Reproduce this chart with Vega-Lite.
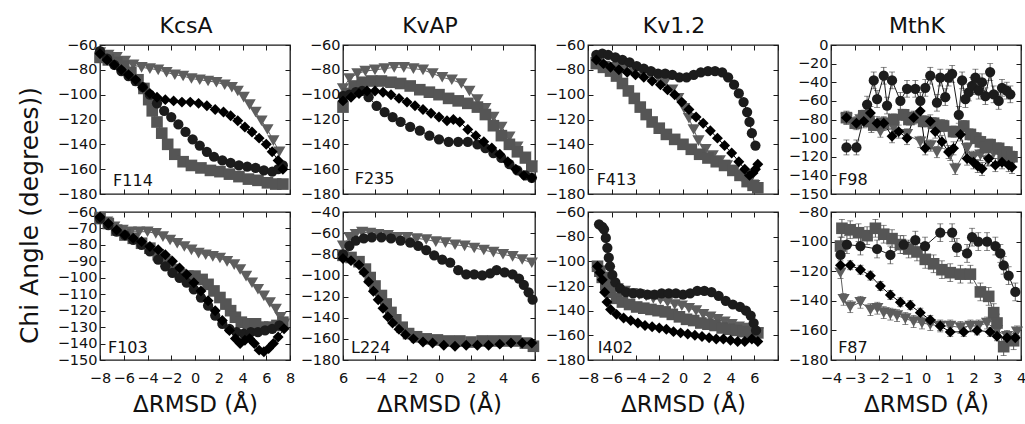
{"$schema":"https://vega.github.io/schema/vega-lite/v6.json",
"padding":{"left":16,"top":14,"right":0,"bottom":0},
"config":{"font":"DejaVu Sans","view":{"stroke":"#1a1a1a","strokeWidth":1.3},
"axis":{"domain":false,"grid":false,"tickSize":-5,"tickColor":"#1a1a1a","tickWidth":1,"labelFontSize":14.5,"labelColor":"#111111","labelPadding":8,"labelFlush":false,"labelOverlap":false,"titleFontSize":23,"titleFontWeight":"normal","titleColor":"#111111"},
"title":{"fontSize":22,"fontWeight":"normal","color":"#111111","offset":-1,"baseline":"alphabetic","frame":"group","anchor":"middle","dx":-9},
"text":{"fontSize":16,"color":"#111111"}},
"datasets":{"d":[
{"p":"A1","s":"t","x":-8,"y":-66},{"p":"A1","s":"t","x":-7.3,"y":-68},{"p":"A1","s":"t","x":-6.6,"y":-70},{"p":"A1","s":"t","x":-5.9,"y":-73},{"p":"A1","s":"t","x":-5.2,"y":-76},{"p":"A1","s":"t","x":-4.5,"y":-78},{"p":"A1","s":"t","x":-3.8,"y":-79},{"p":"A1","s":"t","x":-3.1,"y":-80},{"p":"A1","s":"t","x":-2.4,"y":-82},{"p":"A1","s":"t","x":-1.7,"y":-84},{"p":"A1","s":"t","x":-1,"y":-85},{"p":"A1","s":"t","x":-0.3,"y":-87},{"p":"A1","s":"t","x":0.4,"y":-88},{"p":"A1","s":"t","x":1.1,"y":-89},{"p":"A1","s":"t","x":1.8,"y":-90},{"p":"A1","s":"t","x":2.5,"y":-92},{"p":"A1","s":"t","x":3.1,"y":-94},{"p":"A1","s":"t","x":3.6,"y":-97},{"p":"A1","s":"t","x":4.1,"y":-102},{"p":"A1","s":"t","x":4.6,"y":-108},{"p":"A1","s":"t","x":5.1,"y":-114},{"p":"A1","s":"t","x":5.6,"y":-121},{"p":"A1","s":"t","x":6.1,"y":-128},{"p":"A1","s":"t","x":6.6,"y":-137},{"p":"A1","s":"t","x":7.1,"y":-146},
{"p":"A1","s":"s","x":-8,"y":-70},{"p":"A1","s":"s","x":-7.3,"y":-72},{"p":"A1","s":"s","x":-6.6,"y":-74},{"p":"A1","s":"s","x":-6,"y":-77},{"p":"A1","s":"s","x":-5.4,"y":-82},{"p":"A1","s":"s","x":-4.8,"y":-88},{"p":"A1","s":"s","x":-4.3,"y":-95},{"p":"A1","s":"s","x":-3.9,"y":-104},{"p":"A1","s":"s","x":-3.6,"y":-113},{"p":"A1","s":"s","x":-3.2,"y":-122},{"p":"A1","s":"s","x":-2.8,"y":-131},{"p":"A1","s":"s","x":-2.3,"y":-140},{"p":"A1","s":"s","x":-1.7,"y":-148},{"p":"A1","s":"s","x":-1,"y":-154},{"p":"A1","s":"s","x":-0.3,"y":-157},{"p":"A1","s":"s","x":0.5,"y":-159},{"p":"A1","s":"s","x":1.3,"y":-161},{"p":"A1","s":"s","x":2.1,"y":-162},{"p":"A1","s":"s","x":2.9,"y":-164},{"p":"A1","s":"s","x":3.7,"y":-166},{"p":"A1","s":"s","x":4.5,"y":-168},{"p":"A1","s":"s","x":5.3,"y":-169},{"p":"A1","s":"s","x":6.1,"y":-171},{"p":"A1","s":"s","x":6.8,"y":-172},{"p":"A1","s":"s","x":7.4,"y":-172},
{"p":"A1","s":"c","x":-8,"y":-65},{"p":"A1","s":"c","x":-7.4,"y":-71},{"p":"A1","s":"c","x":-6.8,"y":-76},{"p":"A1","s":"c","x":-6.2,"y":-81},{"p":"A1","s":"c","x":-5.6,"y":-85},{"p":"A1","s":"c","x":-5,"y":-89},{"p":"A1","s":"c","x":-4.4,"y":-94},{"p":"A1","s":"c","x":-3.8,"y":-100},{"p":"A1","s":"c","x":-3.2,"y":-107},{"p":"A1","s":"c","x":-2.6,"y":-113},{"p":"A1","s":"c","x":-2,"y":-118},{"p":"A1","s":"c","x":-1.4,"y":-124},{"p":"A1","s":"c","x":-0.8,"y":-130},{"p":"A1","s":"c","x":-0.2,"y":-136},{"p":"A1","s":"c","x":0.4,"y":-141},{"p":"A1","s":"c","x":1,"y":-146},{"p":"A1","s":"c","x":1.6,"y":-150},{"p":"A1","s":"c","x":2.3,"y":-153},{"p":"A1","s":"c","x":3,"y":-155},{"p":"A1","s":"c","x":3.7,"y":-157},{"p":"A1","s":"c","x":4.4,"y":-158},{"p":"A1","s":"c","x":5.1,"y":-159},{"p":"A1","s":"c","x":5.8,"y":-161},{"p":"A1","s":"c","x":6.5,"y":-162},{"p":"A1","s":"c","x":7,"y":-160},{"p":"A1","s":"c","x":7.4,"y":-157},
{"p":"A1","s":"d","x":-8,"y":-67},{"p":"A1","s":"d","x":-7.4,"y":-72},{"p":"A1","s":"d","x":-6.8,"y":-76},{"p":"A1","s":"d","x":-6.2,"y":-80},{"p":"A1","s":"d","x":-5.6,"y":-84},{"p":"A1","s":"d","x":-5,"y":-88},{"p":"A1","s":"d","x":-4.4,"y":-94},{"p":"A1","s":"d","x":-3.8,"y":-99},{"p":"A1","s":"d","x":-3.2,"y":-102},{"p":"A1","s":"d","x":-2.5,"y":-104},{"p":"A1","s":"d","x":-1.8,"y":-105},{"p":"A1","s":"d","x":-1.1,"y":-106},{"p":"A1","s":"d","x":-0.4,"y":-106},{"p":"A1","s":"d","x":0.3,"y":-107},{"p":"A1","s":"d","x":1,"y":-109},{"p":"A1","s":"d","x":1.7,"y":-112},{"p":"A1","s":"d","x":2.4,"y":-114},{"p":"A1","s":"d","x":3,"y":-117},{"p":"A1","s":"d","x":3.6,"y":-121},{"p":"A1","s":"d","x":4.2,"y":-126},{"p":"A1","s":"d","x":4.8,"y":-130},{"p":"A1","s":"d","x":5.4,"y":-135},{"p":"A1","s":"d","x":6,"y":-140},{"p":"A1","s":"d","x":6.5,"y":-146},{"p":"A1","s":"d","x":7,"y":-153},{"p":"A1","s":"d","x":7.4,"y":-160},
{"p":"A2","s":"t","x":-6,"y":-95},{"p":"A2","s":"t","x":-5.6,"y":-87},{"p":"A2","s":"t","x":-5.1,"y":-83},{"p":"A2","s":"t","x":-4.6,"y":-81},{"p":"A2","s":"t","x":-4,"y":-80},{"p":"A2","s":"t","x":-3.4,"y":-79},{"p":"A2","s":"t","x":-2.8,"y":-78},{"p":"A2","s":"t","x":-2.2,"y":-78},{"p":"A2","s":"t","x":-1.6,"y":-79},{"p":"A2","s":"t","x":-1,"y":-80},{"p":"A2","s":"t","x":-0.4,"y":-83},{"p":"A2","s":"t","x":0.2,"y":-86},{"p":"A2","s":"t","x":0.8,"y":-88},{"p":"A2","s":"t","x":1.4,"y":-91},{"p":"A2","s":"t","x":1.9,"y":-97},{"p":"A2","s":"t","x":2.4,"y":-104},{"p":"A2","s":"t","x":2.9,"y":-111},{"p":"A2","s":"t","x":3.4,"y":-118},{"p":"A2","s":"t","x":3.9,"y":-126},{"p":"A2","s":"t","x":4.4,"y":-134},{"p":"A2","s":"t","x":4.9,"y":-142},{"p":"A2","s":"t","x":5.4,"y":-150},{"p":"A2","s":"t","x":5.8,"y":-157},
{"p":"A2","s":"s","x":-6,"y":-110},{"p":"A2","s":"s","x":-5.7,"y":-99},{"p":"A2","s":"s","x":-5.3,"y":-93},{"p":"A2","s":"s","x":-4.8,"y":-90},{"p":"A2","s":"s","x":-4.2,"y":-89},{"p":"A2","s":"s","x":-3.6,"y":-89},{"p":"A2","s":"s","x":-3,"y":-90},{"p":"A2","s":"s","x":-2.4,"y":-91},{"p":"A2","s":"s","x":-1.8,"y":-93},{"p":"A2","s":"s","x":-1.2,"y":-96},{"p":"A2","s":"s","x":-0.6,"y":-98},{"p":"A2","s":"s","x":0,"y":-100},{"p":"A2","s":"s","x":0.6,"y":-103},{"p":"A2","s":"s","x":1.2,"y":-105},{"p":"A2","s":"s","x":1.8,"y":-107},{"p":"A2","s":"s","x":2.4,"y":-110},{"p":"A2","s":"s","x":2.9,"y":-116},{"p":"A2","s":"s","x":3.4,"y":-125},{"p":"A2","s":"s","x":3.9,"y":-133},{"p":"A2","s":"s","x":4.4,"y":-140},{"p":"A2","s":"s","x":4.9,"y":-146},{"p":"A2","s":"s","x":5.4,"y":-151},{"p":"A2","s":"s","x":5.8,"y":-158},
{"p":"A2","s":"c","x":-6,"y":-101},{"p":"A2","s":"c","x":-5.6,"y":-100},{"p":"A2","s":"c","x":-5.2,"y":-98},{"p":"A2","s":"c","x":-4.8,"y":-97},{"p":"A2","s":"c","x":-4.4,"y":-102},{"p":"A2","s":"c","x":-3.9,"y":-109},{"p":"A2","s":"c","x":-3.4,"y":-114},{"p":"A2","s":"c","x":-2.9,"y":-118},{"p":"A2","s":"c","x":-2.4,"y":-122},{"p":"A2","s":"c","x":-1.8,"y":-126},{"p":"A2","s":"c","x":-1.2,"y":-129},{"p":"A2","s":"c","x":-0.6,"y":-133},{"p":"A2","s":"c","x":0,"y":-136},{"p":"A2","s":"c","x":0.6,"y":-138},{"p":"A2","s":"c","x":1.2,"y":-138},{"p":"A2","s":"c","x":1.8,"y":-138},{"p":"A2","s":"c","x":2.4,"y":-140},{"p":"A2","s":"c","x":2.9,"y":-143},{"p":"A2","s":"c","x":3.4,"y":-147},{"p":"A2","s":"c","x":3.9,"y":-151},{"p":"A2","s":"c","x":4.4,"y":-156},{"p":"A2","s":"c","x":4.9,"y":-161},{"p":"A2","s":"c","x":5.4,"y":-165},{"p":"A2","s":"c","x":5.8,"y":-167},
{"p":"A2","s":"d","x":-6,"y":-105},{"p":"A2","s":"d","x":-5.5,"y":-102},{"p":"A2","s":"d","x":-5,"y":-99},{"p":"A2","s":"d","x":-4.5,"y":-97},{"p":"A2","s":"d","x":-4,"y":-97},{"p":"A2","s":"d","x":-3.5,"y":-98},{"p":"A2","s":"d","x":-3,"y":-100},{"p":"A2","s":"d","x":-2.5,"y":-103},{"p":"A2","s":"d","x":-2,"y":-106},{"p":"A2","s":"d","x":-1.5,"y":-109},{"p":"A2","s":"d","x":-1,"y":-112},{"p":"A2","s":"d","x":-0.5,"y":-115},{"p":"A2","s":"d","x":0,"y":-118},{"p":"A2","s":"d","x":0.5,"y":-121},{"p":"A2","s":"d","x":0.9,"y":-120},{"p":"A2","s":"d","x":1.3,"y":-122},{"p":"A2","s":"d","x":1.8,"y":-128},{"p":"A2","s":"d","x":2.3,"y":-133},{"p":"A2","s":"d","x":2.8,"y":-138},{"p":"A2","s":"d","x":3.3,"y":-143},{"p":"A2","s":"d","x":3.8,"y":-148},{"p":"A2","s":"d","x":4.3,"y":-154},{"p":"A2","s":"d","x":4.8,"y":-160},{"p":"A2","s":"d","x":5.3,"y":-165},{"p":"A2","s":"d","x":5.8,"y":-167},
{"p":"A3","s":"t","x":-7.3,"y":-74},{"p":"A3","s":"t","x":-6.6,"y":-77},{"p":"A3","s":"t","x":-5.8,"y":-78},{"p":"A3","s":"t","x":-5,"y":-79},{"p":"A3","s":"t","x":-4.2,"y":-80},{"p":"A3","s":"t","x":-3.5,"y":-81},{"p":"A3","s":"t","x":-2.8,"y":-83},{"p":"A3","s":"t","x":-2.1,"y":-86},{"p":"A3","s":"t","x":-1.5,"y":-90},{"p":"A3","s":"t","x":-0.9,"y":-96},{"p":"A3","s":"t","x":-0.4,"y":-103},{"p":"A3","s":"t","x":0.1,"y":-111},{"p":"A3","s":"t","x":0.5,"y":-119},{"p":"A3","s":"t","x":0.9,"y":-128},{"p":"A3","s":"t","x":1.3,"y":-137},{"p":"A3","s":"t","x":1.9,"y":-144},{"p":"A3","s":"t","x":2.5,"y":-149},{"p":"A3","s":"t","x":3.1,"y":-153},{"p":"A3","s":"t","x":3.7,"y":-157},{"p":"A3","s":"t","x":4.3,"y":-161},{"p":"A3","s":"t","x":4.9,"y":-166},{"p":"A3","s":"t","x":5.5,"y":-171},{"p":"A3","s":"t","x":6,"y":-173},
{"p":"A3","s":"s","x":-7.3,"y":-75},{"p":"A3","s":"s","x":-6.7,"y":-78},{"p":"A3","s":"s","x":-6.1,"y":-81},{"p":"A3","s":"s","x":-5.6,"y":-85},{"p":"A3","s":"s","x":-5.1,"y":-91},{"p":"A3","s":"s","x":-4.6,"y":-97},{"p":"A3","s":"s","x":-4.1,"y":-103},{"p":"A3","s":"s","x":-3.6,"y":-110},{"p":"A3","s":"s","x":-3.1,"y":-116},{"p":"A3","s":"s","x":-2.6,"y":-122},{"p":"A3","s":"s","x":-2,"y":-127},{"p":"A3","s":"s","x":-1.4,"y":-132},{"p":"A3","s":"s","x":-0.7,"y":-136},{"p":"A3","s":"s","x":0,"y":-140},{"p":"A3","s":"s","x":0.7,"y":-144},{"p":"A3","s":"s","x":1.4,"y":-148},{"p":"A3","s":"s","x":2.1,"y":-151},{"p":"A3","s":"s","x":2.8,"y":-154},{"p":"A3","s":"s","x":3.5,"y":-157},{"p":"A3","s":"s","x":4.2,"y":-161},{"p":"A3","s":"s","x":4.8,"y":-165},{"p":"A3","s":"s","x":5.4,"y":-170},{"p":"A3","s":"s","x":5.9,"y":-173},{"p":"A3","s":"s","x":6.3,"y":-175},
{"p":"A3","s":"c","x":-7.3,"y":-68},{"p":"A3","s":"c","x":-6.8,"y":-67},{"p":"A3","s":"c","x":-6.3,"y":-68},{"p":"A3","s":"c","x":-5.7,"y":-70},{"p":"A3","s":"c","x":-5.1,"y":-72},{"p":"A3","s":"c","x":-4.5,"y":-74},{"p":"A3","s":"c","x":-3.9,"y":-77},{"p":"A3","s":"c","x":-3.3,"y":-79},{"p":"A3","s":"c","x":-2.7,"y":-81},{"p":"A3","s":"c","x":-2.1,"y":-83},{"p":"A3","s":"c","x":-1.5,"y":-83},{"p":"A3","s":"c","x":-0.9,"y":-84},{"p":"A3","s":"c","x":-0.3,"y":-86},{"p":"A3","s":"c","x":0.3,"y":-86},{"p":"A3","s":"c","x":0.9,"y":-84},{"p":"A3","s":"c","x":1.5,"y":-82},{"p":"A3","s":"c","x":2.1,"y":-81},{"p":"A3","s":"c","x":2.7,"y":-81},{"p":"A3","s":"c","x":3.3,"y":-82},{"p":"A3","s":"c","x":3.8,"y":-86},{"p":"A3","s":"c","x":4.3,"y":-92},{"p":"A3","s":"c","x":4.7,"y":-99},{"p":"A3","s":"c","x":5.1,"y":-106},{"p":"A3","s":"c","x":5.4,"y":-114},{"p":"A3","s":"c","x":5.6,"y":-122},{"p":"A3","s":"c","x":5.8,"y":-131},{"p":"A3","s":"c","x":6.1,"y":-141},
{"p":"A3","s":"d","x":-7.3,"y":-72},{"p":"A3","s":"d","x":-6.7,"y":-75},{"p":"A3","s":"d","x":-6.1,"y":-78},{"p":"A3","s":"d","x":-5.4,"y":-80},{"p":"A3","s":"d","x":-4.7,"y":-82},{"p":"A3","s":"d","x":-4,"y":-84},{"p":"A3","s":"d","x":-3.3,"y":-86},{"p":"A3","s":"d","x":-2.6,"y":-89},{"p":"A3","s":"d","x":-1.9,"y":-92},{"p":"A3","s":"d","x":-1.3,"y":-96},{"p":"A3","s":"d","x":-0.7,"y":-100},{"p":"A3","s":"d","x":-0.1,"y":-106},{"p":"A3","s":"d","x":0.5,"y":-112},{"p":"A3","s":"d","x":1.1,"y":-118},{"p":"A3","s":"d","x":1.7,"y":-123},{"p":"A3","s":"d","x":2.3,"y":-129},{"p":"A3","s":"d","x":2.9,"y":-135},{"p":"A3","s":"d","x":3.5,"y":-141},{"p":"A3","s":"d","x":4.1,"y":-147},{"p":"A3","s":"d","x":4.7,"y":-154},{"p":"A3","s":"d","x":5.2,"y":-160},{"p":"A3","s":"d","x":5.6,"y":-165},{"p":"A3","s":"d","x":5.9,"y":-163},{"p":"A3","s":"d","x":6.1,"y":-160},{"p":"A3","s":"d","x":6.3,"y":-156},
{"p":"A4","s":"t","x":-3.35,"y":-79,"e":6},{"p":"A4","s":"t","x":-2.76,"y":-80,"e":6},{"p":"A4","s":"t","x":-2.3,"y":-88,"e":6},{"p":"A4","s":"t","x":-1.92,"y":-93,"e":6},{"p":"A4","s":"t","x":-1.36,"y":-89,"e":6},{"p":"A4","s":"t","x":-0.8,"y":-96,"e":6},{"p":"A4","s":"t","x":-0.24,"y":-104,"e":6},{"p":"A4","s":"t","x":0.2,"y":-108,"e":6},{"p":"A4","s":"t","x":0.46,"y":-115,"e":6},{"p":"A4","s":"t","x":0.67,"y":-86,"e":6},{"p":"A4","s":"t","x":1.02,"y":-118,"e":6},{"p":"A4","s":"t","x":1.23,"y":-133,"e":6},{"p":"A4","s":"t","x":1.73,"y":-111,"e":6},{"p":"A4","s":"t","x":2,"y":-120,"e":6},{"p":"A4","s":"t","x":2.29,"y":-118,"e":6},{"p":"A4","s":"t","x":2.6,"y":-124,"e":6},{"p":"A4","s":"t","x":2.85,"y":-116,"e":6},{"p":"A4","s":"t","x":3.27,"y":-120,"e":6},{"p":"A4","s":"t","x":3.62,"y":-126,"e":6},
{"p":"A4","s":"s","x":-3.35,"y":-78,"e":6},{"p":"A4","s":"s","x":-2.98,"y":-84,"e":6},{"p":"A4","s":"s","x":-2.62,"y":-76,"e":6},{"p":"A4","s":"s","x":-2.4,"y":-82,"e":6},{"p":"A4","s":"s","x":-2.2,"y":-86,"e":6},{"p":"A4","s":"s","x":-1.78,"y":-84,"e":6},{"p":"A4","s":"s","x":-1.36,"y":-80,"e":6},{"p":"A4","s":"s","x":-0.94,"y":-75,"e":6},{"p":"A4","s":"s","x":-0.72,"y":-80,"e":6},{"p":"A4","s":"s","x":-0.52,"y":-78,"e":6},{"p":"A4","s":"s","x":-0.1,"y":-82,"e":6},{"p":"A4","s":"s","x":0.32,"y":-84,"e":6},{"p":"A4","s":"s","x":0.74,"y":-87,"e":6},{"p":"A4","s":"s","x":1.16,"y":-93,"e":6},{"p":"A4","s":"s","x":1.59,"y":-87,"e":6},{"p":"A4","s":"s","x":1.87,"y":-96,"e":6},{"p":"A4","s":"s","x":2.1,"y":-100,"e":6},{"p":"A4","s":"s","x":2.29,"y":-104,"e":6},{"p":"A4","s":"s","x":2.5,"y":-110,"e":6},{"p":"A4","s":"s","x":2.7,"y":-107,"e":6},{"p":"A4","s":"s","x":3.06,"y":-111,"e":6},{"p":"A4","s":"s","x":3.25,"y":-118,"e":6},{"p":"A4","s":"s","x":3.41,"y":-115,"e":6},{"p":"A4","s":"s","x":3.62,"y":-120,"e":6},
{"p":"A4","s":"c","x":-3.35,"y":-110,"e":8},{"p":"A4","s":"c","x":-2.93,"y":-110,"e":8},{"p":"A4","s":"c","x":-2.48,"y":-64,"e":9},{"p":"A4","s":"c","x":-2.2,"y":-38,"e":9},{"p":"A4","s":"c","x":-2.06,"y":-58,"e":9},{"p":"A4","s":"c","x":-1.78,"y":-33,"e":9},{"p":"A4","s":"c","x":-1.64,"y":-65,"e":9},{"p":"A4","s":"c","x":-1.43,"y":-38,"e":9},{"p":"A4","s":"c","x":-1.08,"y":-60,"e":9},{"p":"A4","s":"c","x":-0.8,"y":-47,"e":9},{"p":"A4","s":"c","x":-0.45,"y":-47,"e":9},{"p":"A4","s":"c","x":-0.24,"y":-60,"e":9},{"p":"A4","s":"c","x":-0.03,"y":-46,"e":9},{"p":"A4","s":"c","x":0.18,"y":-33,"e":9},{"p":"A4","s":"c","x":0.46,"y":-62,"e":9},{"p":"A4","s":"c","x":0.6,"y":-35,"e":9},{"p":"A4","s":"c","x":0.81,"y":-56,"e":9},{"p":"A4","s":"c","x":0.95,"y":-35,"e":9},{"p":"A4","s":"c","x":1.1,"y":-31,"e":9},{"p":"A4","s":"c","x":1.38,"y":-75,"e":9},{"p":"A4","s":"c","x":1.52,"y":-38,"e":9},{"p":"A4","s":"c","x":1.66,"y":-58,"e":9},{"p":"A4","s":"c","x":1.8,"y":-51,"e":9},{"p":"A4","s":"c","x":1.94,"y":-44,"e":9},{"p":"A4","s":"c","x":2.08,"y":-35,"e":9},{"p":"A4","s":"c","x":2.22,"y":-49,"e":9},{"p":"A4","s":"c","x":2.36,"y":-40,"e":9},{"p":"A4","s":"c","x":2.5,"y":-55,"e":9},{"p":"A4","s":"c","x":2.7,"y":-29,"e":9},{"p":"A4","s":"c","x":2.85,"y":-53,"e":9},{"p":"A4","s":"c","x":3.06,"y":-60,"e":9},{"p":"A4","s":"c","x":3.2,"y":-46,"e":9},{"p":"A4","s":"c","x":3.4,"y":-49,"e":9},{"p":"A4","s":"c","x":3.55,"y":-53,"e":9},
{"p":"A4","s":"d","x":-3.35,"y":-78,"e":7},{"p":"A4","s":"d","x":-2.93,"y":-84,"e":7},{"p":"A4","s":"d","x":-2.62,"y":-82,"e":7},{"p":"A4","s":"d","x":-2.34,"y":-73,"e":7},{"p":"A4","s":"d","x":-2.06,"y":-84,"e":7},{"p":"A4","s":"d","x":-1.78,"y":-84,"e":7},{"p":"A4","s":"d","x":-1.43,"y":-98,"e":7},{"p":"A4","s":"d","x":-1.15,"y":-93,"e":7},{"p":"A4","s":"d","x":-0.8,"y":-100,"e":7},{"p":"A4","s":"d","x":-0.52,"y":-78,"e":7},{"p":"A4","s":"d","x":-0.24,"y":-71,"e":7},{"p":"A4","s":"d","x":-0.03,"y":-111,"e":7},{"p":"A4","s":"d","x":0.18,"y":-82,"e":7},{"p":"A4","s":"d","x":0.39,"y":-93,"e":7},{"p":"A4","s":"d","x":0.67,"y":-104,"e":7},{"p":"A4","s":"d","x":0.95,"y":-115,"e":7},{"p":"A4","s":"d","x":1.16,"y":-111,"e":7},{"p":"A4","s":"d","x":1.45,"y":-96,"e":7},{"p":"A4","s":"d","x":1.73,"y":-122,"e":7},{"p":"A4","s":"d","x":2,"y":-126,"e":7},{"p":"A4","s":"d","x":2.18,"y":-130,"e":7},{"p":"A4","s":"d","x":2.36,"y":-133,"e":7},{"p":"A4","s":"d","x":2.64,"y":-122,"e":7},{"p":"A4","s":"d","x":2.92,"y":-129,"e":7},{"p":"A4","s":"d","x":3.2,"y":-126,"e":7},{"p":"A4","s":"d","x":3.48,"y":-129,"e":7},{"p":"A4","s":"d","x":3.62,"y":-131,"e":7},
{"p":"B1","s":"t","x":-8,"y":-63},{"p":"B1","s":"t","x":-7.4,"y":-66},{"p":"B1","s":"t","x":-6.8,"y":-69},{"p":"B1","s":"t","x":-6.1,"y":-71},{"p":"B1","s":"t","x":-5.4,"y":-72},{"p":"B1","s":"t","x":-4.7,"y":-72},{"p":"B1","s":"t","x":-4,"y":-72},{"p":"B1","s":"t","x":-3.3,"y":-73},{"p":"B1","s":"t","x":-2.7,"y":-75},{"p":"B1","s":"t","x":-2.1,"y":-77},{"p":"B1","s":"t","x":-1.5,"y":-79},{"p":"B1","s":"t","x":-0.9,"y":-81},{"p":"B1","s":"t","x":-0.3,"y":-83},{"p":"B1","s":"t","x":0.3,"y":-85},{"p":"B1","s":"t","x":0.9,"y":-86},{"p":"B1","s":"t","x":1.5,"y":-87},{"p":"B1","s":"t","x":2.1,"y":-88},{"p":"B1","s":"t","x":2.7,"y":-90},{"p":"B1","s":"t","x":3.3,"y":-92},{"p":"B1","s":"t","x":3.8,"y":-95},{"p":"B1","s":"t","x":4.3,"y":-99},{"p":"B1","s":"t","x":4.8,"y":-103},{"p":"B1","s":"t","x":5.3,"y":-107},{"p":"B1","s":"t","x":5.8,"y":-111},{"p":"B1","s":"t","x":6.3,"y":-115},{"p":"B1","s":"t","x":6.8,"y":-119},{"p":"B1","s":"t","x":7.2,"y":-124},{"p":"B1","s":"t","x":7.5,"y":-128},
{"p":"B1","s":"s","x":-8,"y":-64},{"p":"B1","s":"s","x":-7.3,"y":-67},{"p":"B1","s":"s","x":-6.6,"y":-71},{"p":"B1","s":"s","x":-5.9,"y":-74},{"p":"B1","s":"s","x":-5.2,"y":-76},{"p":"B1","s":"s","x":-4.5,"y":-79},{"p":"B1","s":"s","x":-3.8,"y":-82},{"p":"B1","s":"s","x":-3.1,"y":-86},{"p":"B1","s":"s","x":-2.4,"y":-90},{"p":"B1","s":"s","x":-1.8,"y":-95},{"p":"B1","s":"s","x":-1.2,"y":-98},{"p":"B1","s":"s","x":-0.6,"y":-99},{"p":"B1","s":"s","x":0,"y":-99},{"p":"B1","s":"s","x":0.6,"y":-101},{"p":"B1","s":"s","x":1.1,"y":-104},{"p":"B1","s":"s","x":1.6,"y":-108},{"p":"B1","s":"s","x":2.1,"y":-112},{"p":"B1","s":"s","x":2.6,"y":-116},{"p":"B1","s":"s","x":3,"y":-120},{"p":"B1","s":"s","x":3.4,"y":-124},{"p":"B1","s":"s","x":3.9,"y":-127},{"p":"B1","s":"s","x":4.5,"y":-128},{"p":"B1","s":"s","x":5.1,"y":-128},{"p":"B1","s":"s","x":5.7,"y":-130},{"p":"B1","s":"s","x":6.3,"y":-130},{"p":"B1","s":"s","x":6.9,"y":-129},{"p":"B1","s":"s","x":7.4,"y":-127},
{"p":"B1","s":"c","x":-8,"y":-64},{"p":"B1","s":"c","x":-7.3,"y":-68},{"p":"B1","s":"c","x":-6.6,"y":-72},{"p":"B1","s":"c","x":-5.9,"y":-74},{"p":"B1","s":"c","x":-5.2,"y":-77},{"p":"B1","s":"c","x":-4.5,"y":-80},{"p":"B1","s":"c","x":-3.8,"y":-84},{"p":"B1","s":"c","x":-3.1,"y":-89},{"p":"B1","s":"c","x":-2.5,"y":-93},{"p":"B1","s":"c","x":-1.9,"y":-97},{"p":"B1","s":"c","x":-1.3,"y":-100},{"p":"B1","s":"c","x":-0.7,"y":-103},{"p":"B1","s":"c","x":-0.1,"y":-107},{"p":"B1","s":"c","x":0.5,"y":-112},{"p":"B1","s":"c","x":1.1,"y":-117},{"p":"B1","s":"c","x":1.7,"y":-123},{"p":"B1","s":"c","x":2.3,"y":-128},{"p":"B1","s":"c","x":2.9,"y":-131},{"p":"B1","s":"c","x":3.5,"y":-133},{"p":"B1","s":"c","x":4.1,"y":-134},{"p":"B1","s":"c","x":4.7,"y":-133},{"p":"B1","s":"c","x":5.3,"y":-133},{"p":"B1","s":"c","x":5.9,"y":-132},{"p":"B1","s":"c","x":6.5,"y":-131},{"p":"B1","s":"c","x":7.1,"y":-129},
{"p":"B1","s":"d","x":-8,"y":-63},{"p":"B1","s":"d","x":-7.3,"y":-67},{"p":"B1","s":"d","x":-6.6,"y":-71},{"p":"B1","s":"d","x":-5.9,"y":-74},{"p":"B1","s":"d","x":-5.2,"y":-76},{"p":"B1","s":"d","x":-4.5,"y":-78},{"p":"B1","s":"d","x":-3.8,"y":-81},{"p":"B1","s":"d","x":-3.1,"y":-83},{"p":"B1","s":"d","x":-2.5,"y":-86},{"p":"B1","s":"d","x":-1.9,"y":-90},{"p":"B1","s":"d","x":-1.3,"y":-94},{"p":"B1","s":"d","x":-0.7,"y":-98},{"p":"B1","s":"d","x":-0.1,"y":-103},{"p":"B1","s":"d","x":0.5,"y":-108},{"p":"B1","s":"d","x":1.1,"y":-114},{"p":"B1","s":"d","x":1.7,"y":-120},{"p":"B1","s":"d","x":2.3,"y":-126},{"p":"B1","s":"d","x":2.9,"y":-132},{"p":"B1","s":"d","x":3.4,"y":-137},{"p":"B1","s":"d","x":3.8,"y":-140},{"p":"B1","s":"d","x":4.2,"y":-138},{"p":"B1","s":"d","x":4.6,"y":-137},{"p":"B1","s":"d","x":5,"y":-140},{"p":"B1","s":"d","x":5.4,"y":-144},{"p":"B1","s":"d","x":5.8,"y":-145},{"p":"B1","s":"d","x":6.2,"y":-143},{"p":"B1","s":"d","x":6.6,"y":-140},{"p":"B1","s":"d","x":7,"y":-136},{"p":"B1","s":"d","x":7.5,"y":-131},
{"p":"B2","s":"t","x":-6,"y":-72},{"p":"B2","s":"t","x":-5.6,"y":-64},{"p":"B2","s":"t","x":-5.2,"y":-61},{"p":"B2","s":"t","x":-4.8,"y":-59},{"p":"B2","s":"t","x":-4.3,"y":-60},{"p":"B2","s":"t","x":-3.8,"y":-61},{"p":"B2","s":"t","x":-3.2,"y":-62},{"p":"B2","s":"t","x":-2.6,"y":-64},{"p":"B2","s":"t","x":-2,"y":-64},{"p":"B2","s":"t","x":-1.4,"y":-65},{"p":"B2","s":"t","x":-0.8,"y":-66},{"p":"B2","s":"t","x":-0.2,"y":-68},{"p":"B2","s":"t","x":0.4,"y":-69},{"p":"B2","s":"t","x":1,"y":-71},{"p":"B2","s":"t","x":1.6,"y":-72},{"p":"B2","s":"t","x":2.2,"y":-74},{"p":"B2","s":"t","x":2.8,"y":-76},{"p":"B2","s":"t","x":3.4,"y":-78},{"p":"B2","s":"t","x":4,"y":-80},{"p":"B2","s":"t","x":4.6,"y":-82},{"p":"B2","s":"t","x":5.2,"y":-85},{"p":"B2","s":"t","x":5.8,"y":-88},
{"p":"B2","s":"s","x":-6,"y":-81},{"p":"B2","s":"s","x":-5.5,"y":-83},{"p":"B2","s":"s","x":-5,"y":-87},{"p":"B2","s":"s","x":-4.6,"y":-94},{"p":"B2","s":"s","x":-4.3,"y":-102},{"p":"B2","s":"s","x":-4,"y":-110},{"p":"B2","s":"s","x":-3.6,"y":-119},{"p":"B2","s":"s","x":-3.3,"y":-127},{"p":"B2","s":"s","x":-3,"y":-135},{"p":"B2","s":"s","x":-2.7,"y":-142},{"p":"B2","s":"s","x":-2.3,"y":-149},{"p":"B2","s":"s","x":-1.9,"y":-155},{"p":"B2","s":"s","x":-1.4,"y":-158},{"p":"B2","s":"s","x":-0.8,"y":-160},{"p":"B2","s":"s","x":-0.1,"y":-161},{"p":"B2","s":"s","x":0.6,"y":-162},{"p":"B2","s":"s","x":1.3,"y":-162},{"p":"B2","s":"s","x":2,"y":-163},{"p":"B2","s":"s","x":2.7,"y":-162},{"p":"B2","s":"s","x":3.4,"y":-162},{"p":"B2","s":"s","x":4.1,"y":-162},{"p":"B2","s":"s","x":4.8,"y":-162},{"p":"B2","s":"s","x":5.4,"y":-164},{"p":"B2","s":"s","x":5.9,"y":-167},
{"p":"B2","s":"c","x":-6,"y":-80},{"p":"B2","s":"c","x":-5.6,"y":-72},{"p":"B2","s":"c","x":-5.2,"y":-67},{"p":"B2","s":"c","x":-4.7,"y":-65},{"p":"B2","s":"c","x":-4.2,"y":-64},{"p":"B2","s":"c","x":-3.6,"y":-64},{"p":"B2","s":"c","x":-3,"y":-65},{"p":"B2","s":"c","x":-2.4,"y":-67},{"p":"B2","s":"c","x":-1.8,"y":-69},{"p":"B2","s":"c","x":-1.3,"y":-72},{"p":"B2","s":"c","x":-0.8,"y":-76},{"p":"B2","s":"c","x":-0.3,"y":-81},{"p":"B2","s":"c","x":0.2,"y":-85},{"p":"B2","s":"c","x":0.7,"y":-88},{"p":"B2","s":"c","x":1.2,"y":-95},{"p":"B2","s":"c","x":1.7,"y":-99},{"p":"B2","s":"c","x":2.2,"y":-99},{"p":"B2","s":"c","x":2.7,"y":-100},{"p":"B2","s":"c","x":3.2,"y":-98},{"p":"B2","s":"c","x":3.6,"y":-95},{"p":"B2","s":"c","x":4.1,"y":-97},{"p":"B2","s":"c","x":4.6,"y":-99},{"p":"B2","s":"c","x":5,"y":-103},{"p":"B2","s":"c","x":5.3,"y":-109},{"p":"B2","s":"c","x":5.6,"y":-116},{"p":"B2","s":"c","x":5.85,"y":-123},
{"p":"B2","s":"d","x":-6,"y":-84},{"p":"B2","s":"d","x":-5.5,"y":-86},{"p":"B2","s":"d","x":-5,"y":-90},{"p":"B2","s":"d","x":-4.7,"y":-97},{"p":"B2","s":"d","x":-4.4,"y":-106},{"p":"B2","s":"d","x":-4.1,"y":-115},{"p":"B2","s":"d","x":-3.8,"y":-123},{"p":"B2","s":"d","x":-3.5,"y":-131},{"p":"B2","s":"d","x":-3.2,"y":-139},{"p":"B2","s":"d","x":-2.9,"y":-145},{"p":"B2","s":"d","x":-2.5,"y":-151},{"p":"B2","s":"d","x":-2.1,"y":-156},{"p":"B2","s":"d","x":-1.6,"y":-160},{"p":"B2","s":"d","x":-1,"y":-163},{"p":"B2","s":"d","x":-0.4,"y":-164},{"p":"B2","s":"d","x":0.3,"y":-166},{"p":"B2","s":"d","x":1,"y":-167},{"p":"B2","s":"d","x":1.7,"y":-166},{"p":"B2","s":"d","x":2.4,"y":-166},{"p":"B2","s":"d","x":3.1,"y":-166},{"p":"B2","s":"d","x":3.8,"y":-165},{"p":"B2","s":"d","x":4.5,"y":-164},{"p":"B2","s":"d","x":5.2,"y":-164},{"p":"B2","s":"d","x":5.8,"y":-164},
{"p":"B3","s":"t","x":-7.2,"y":-109},{"p":"B3","s":"t","x":-6.9,"y":-113},{"p":"B3","s":"t","x":-6.5,"y":-116},{"p":"B3","s":"t","x":-6.1,"y":-119},{"p":"B3","s":"t","x":-5.5,"y":-122},{"p":"B3","s":"t","x":-4.9,"y":-124},{"p":"B3","s":"t","x":-4.3,"y":-126},{"p":"B3","s":"t","x":-3.7,"y":-127},{"p":"B3","s":"t","x":-3.1,"y":-128},{"p":"B3","s":"t","x":-2.5,"y":-130},{"p":"B3","s":"t","x":-1.9,"y":-131},{"p":"B3","s":"t","x":-1.3,"y":-133},{"p":"B3","s":"t","x":-0.7,"y":-135},{"p":"B3","s":"t","x":-0.1,"y":-136},{"p":"B3","s":"t","x":0.5,"y":-138},{"p":"B3","s":"t","x":1.1,"y":-140},{"p":"B3","s":"t","x":1.7,"y":-143},{"p":"B3","s":"t","x":2.3,"y":-145},{"p":"B3","s":"t","x":2.9,"y":-147},{"p":"B3","s":"t","x":3.5,"y":-149},{"p":"B3","s":"t","x":4.1,"y":-151},{"p":"B3","s":"t","x":4.7,"y":-153},{"p":"B3","s":"t","x":5.3,"y":-154},{"p":"B3","s":"t","x":5.8,"y":-156},{"p":"B3","s":"t","x":6.3,"y":-158},
{"p":"B3","s":"s","x":-7.2,"y":-104},{"p":"B3","s":"s","x":-7,"y":-108},{"p":"B3","s":"s","x":-6.8,"y":-113},{"p":"B3","s":"s","x":-6.5,"y":-119},{"p":"B3","s":"s","x":-6.1,"y":-125},{"p":"B3","s":"s","x":-5.6,"y":-130},{"p":"B3","s":"s","x":-5.1,"y":-133},{"p":"B3","s":"s","x":-4.5,"y":-135},{"p":"B3","s":"s","x":-3.9,"y":-137},{"p":"B3","s":"s","x":-3.3,"y":-138},{"p":"B3","s":"s","x":-2.7,"y":-139},{"p":"B3","s":"s","x":-2.1,"y":-140},{"p":"B3","s":"s","x":-1.5,"y":-141},{"p":"B3","s":"s","x":-0.9,"y":-143},{"p":"B3","s":"s","x":-0.3,"y":-145},{"p":"B3","s":"s","x":0.3,"y":-147},{"p":"B3","s":"s","x":0.9,"y":-148},{"p":"B3","s":"s","x":1.5,"y":-150},{"p":"B3","s":"s","x":2.1,"y":-151},{"p":"B3","s":"s","x":2.7,"y":-152},{"p":"B3","s":"s","x":3.3,"y":-154},{"p":"B3","s":"s","x":3.9,"y":-155},{"p":"B3","s":"s","x":4.5,"y":-156},{"p":"B3","s":"s","x":5.1,"y":-157},{"p":"B3","s":"s","x":5.7,"y":-158},{"p":"B3","s":"s","x":6.3,"y":-158},
{"p":"B3","s":"c","x":-7.07,"y":-70},{"p":"B3","s":"c","x":-6.8,"y":-72},{"p":"B3","s":"c","x":-6.65,"y":-74},{"p":"B3","s":"c","x":-6.5,"y":-81},{"p":"B3","s":"c","x":-6.37,"y":-89},{"p":"B3","s":"c","x":-6.25,"y":-97},{"p":"B3","s":"c","x":-6.15,"y":-104},{"p":"B3","s":"c","x":-5.95,"y":-111},{"p":"B3","s":"c","x":-5.7,"y":-117},{"p":"B3","s":"c","x":-5.3,"y":-122},{"p":"B3","s":"c","x":-4.8,"y":-125},{"p":"B3","s":"c","x":-4.2,"y":-126},{"p":"B3","s":"c","x":-3.6,"y":-126},{"p":"B3","s":"c","x":-3,"y":-127},{"p":"B3","s":"c","x":-2.4,"y":-127},{"p":"B3","s":"c","x":-1.8,"y":-126},{"p":"B3","s":"c","x":-1.2,"y":-126},{"p":"B3","s":"c","x":-0.6,"y":-126},{"p":"B3","s":"c","x":0,"y":-127},{"p":"B3","s":"c","x":0.6,"y":-126},{"p":"B3","s":"c","x":1.2,"y":-124},{"p":"B3","s":"c","x":1.8,"y":-124},{"p":"B3","s":"c","x":2.4,"y":-125},{"p":"B3","s":"c","x":3,"y":-128},{"p":"B3","s":"c","x":3.6,"y":-132},{"p":"B3","s":"c","x":4.2,"y":-135},{"p":"B3","s":"c","x":4.8,"y":-137},{"p":"B3","s":"c","x":5.3,"y":-140},{"p":"B3","s":"c","x":5.7,"y":-144},{"p":"B3","s":"c","x":5.95,"y":-150},{"p":"B3","s":"c","x":6.15,"y":-156},
{"p":"B3","s":"d","x":-7.2,"y":-104},{"p":"B3","s":"d","x":-7,"y":-109},{"p":"B3","s":"d","x":-6.8,"y":-115},{"p":"B3","s":"d","x":-6.6,"y":-125},{"p":"B3","s":"d","x":-6.4,"y":-133},{"p":"B3","s":"d","x":-6.1,"y":-139},{"p":"B3","s":"d","x":-5.6,"y":-143},{"p":"B3","s":"d","x":-5,"y":-146},{"p":"B3","s":"d","x":-4.4,"y":-148},{"p":"B3","s":"d","x":-3.8,"y":-150},{"p":"B3","s":"d","x":-3.2,"y":-152},{"p":"B3","s":"d","x":-2.6,"y":-153},{"p":"B3","s":"d","x":-2,"y":-154},{"p":"B3","s":"d","x":-1.4,"y":-155},{"p":"B3","s":"d","x":-0.8,"y":-157},{"p":"B3","s":"d","x":-0.2,"y":-158},{"p":"B3","s":"d","x":0.4,"y":-159},{"p":"B3","s":"d","x":1,"y":-160},{"p":"B3","s":"d","x":1.6,"y":-161},{"p":"B3","s":"d","x":2.2,"y":-162},{"p":"B3","s":"d","x":2.8,"y":-163},{"p":"B3","s":"d","x":3.4,"y":-163},{"p":"B3","s":"d","x":4,"y":-164},{"p":"B3","s":"d","x":4.6,"y":-165},{"p":"B3","s":"d","x":5.2,"y":-165},{"p":"B3","s":"d","x":5.8,"y":-163},{"p":"B3","s":"d","x":6.3,"y":-165},
{"p":"B4","s":"t","x":-3.6,"y":-121,"e":4},{"p":"B4","s":"t","x":-3.47,"y":-139,"e":4},{"p":"B4","s":"t","x":-3.19,"y":-144,"e":4},{"p":"B4","s":"t","x":-2.76,"y":-141,"e":4},{"p":"B4","s":"t","x":-2.34,"y":-146,"e":4},{"p":"B4","s":"t","x":-2.05,"y":-145,"e":4},{"p":"B4","s":"t","x":-1.78,"y":-148,"e":4},{"p":"B4","s":"t","x":-1.5,"y":-149,"e":4},{"p":"B4","s":"t","x":-1.22,"y":-150,"e":4},{"p":"B4","s":"t","x":-0.87,"y":-152,"e":4},{"p":"B4","s":"t","x":-0.52,"y":-154,"e":4},{"p":"B4","s":"t","x":-0.17,"y":-155,"e":4},{"p":"B4","s":"t","x":0.18,"y":-156,"e":4},{"p":"B4","s":"t","x":0.6,"y":-157,"e":4},{"p":"B4","s":"t","x":1.02,"y":-157,"e":4},{"p":"B4","s":"t","x":1.45,"y":-158,"e":4},{"p":"B4","s":"t","x":1.87,"y":-157,"e":4},{"p":"B4","s":"t","x":2.22,"y":-157,"e":4},{"p":"B4","s":"t","x":2.57,"y":-155,"e":4},{"p":"B4","s":"t","x":2.99,"y":-160,"e":4},{"p":"B4","s":"t","x":3.41,"y":-164,"e":4},{"p":"B4","s":"t","x":3.83,"y":-161,"e":4},
{"p":"B4","s":"s","x":-3.6,"y":-103,"e":6},{"p":"B4","s":"s","x":-3.54,"y":-91,"e":6},{"p":"B4","s":"s","x":-3.19,"y":-92,"e":6},{"p":"B4","s":"s","x":-2.84,"y":-94,"e":6},{"p":"B4","s":"s","x":-2.48,"y":-96,"e":6},{"p":"B4","s":"s","x":-2.13,"y":-91,"e":6},{"p":"B4","s":"s","x":-1.78,"y":-95,"e":6},{"p":"B4","s":"s","x":-1.43,"y":-98,"e":6},{"p":"B4","s":"s","x":-1.08,"y":-102,"e":6},{"p":"B4","s":"s","x":-0.73,"y":-105,"e":6},{"p":"B4","s":"s","x":-0.38,"y":-107,"e":6},{"p":"B4","s":"s","x":-0.03,"y":-112,"e":6},{"p":"B4","s":"s","x":0.32,"y":-115,"e":6},{"p":"B4","s":"s","x":0.67,"y":-119,"e":6},{"p":"B4","s":"s","x":1.02,"y":-121,"e":6},{"p":"B4","s":"s","x":1.45,"y":-122,"e":6},{"p":"B4","s":"s","x":1.87,"y":-122,"e":6},{"p":"B4","s":"s","x":2.29,"y":-134,"e":6},{"p":"B4","s":"s","x":2.64,"y":-137,"e":6},{"p":"B4","s":"s","x":2.85,"y":-148,"e":6},{"p":"B4","s":"s","x":2.99,"y":-155,"e":6},{"p":"B4","s":"s","x":3.27,"y":-171,"e":6},{"p":"B4","s":"s","x":3.69,"y":-167,"e":6},
{"p":"B4","s":"c","x":-3.6,"y":-109,"e":6},{"p":"B4","s":"c","x":-3.33,"y":-102,"e":6},{"p":"B4","s":"c","x":-2.76,"y":-103,"e":6},{"p":"B4","s":"c","x":-2.06,"y":-105,"e":6},{"p":"B4","s":"c","x":-1.5,"y":-109,"e":6},{"p":"B4","s":"c","x":-0.94,"y":-102,"e":6},{"p":"B4","s":"c","x":-0.45,"y":-99,"e":6},{"p":"B4","s":"c","x":-0.04,"y":-103,"e":6},{"p":"B4","s":"c","x":0.6,"y":-94,"e":6},{"p":"B4","s":"c","x":1.1,"y":-94,"e":6},{"p":"B4","s":"c","x":1.3,"y":-104,"e":6},{"p":"B4","s":"c","x":1.73,"y":-108,"e":6},{"p":"B4","s":"c","x":1.94,"y":-97,"e":6},{"p":"B4","s":"c","x":2.2,"y":-100,"e":6},{"p":"B4","s":"c","x":2.57,"y":-100,"e":6},{"p":"B4","s":"c","x":2.92,"y":-103,"e":6},{"p":"B4","s":"c","x":3.13,"y":-108,"e":6},{"p":"B4","s":"c","x":3.27,"y":-116,"e":6},{"p":"B4","s":"c","x":3.48,"y":-123,"e":6},{"p":"B4","s":"c","x":3.76,"y":-134,"e":6},
{"p":"B4","s":"d","x":-3.6,"y":-116,"e":3},{"p":"B4","s":"d","x":-3.19,"y":-116,"e":3},{"p":"B4","s":"d","x":-2.76,"y":-119,"e":3},{"p":"B4","s":"d","x":-2.34,"y":-123,"e":3},{"p":"B4","s":"d","x":-1.92,"y":-130,"e":3},{"p":"B4","s":"d","x":-1.5,"y":-136,"e":3},{"p":"B4","s":"d","x":-1.08,"y":-141,"e":3},{"p":"B4","s":"d","x":-0.66,"y":-143,"e":3},{"p":"B4","s":"d","x":-0.24,"y":-148,"e":3},{"p":"B4","s":"d","x":0.18,"y":-153,"e":3},{"p":"B4","s":"d","x":0.6,"y":-157,"e":3},{"p":"B4","s":"d","x":1.02,"y":-161,"e":3},{"p":"B4","s":"d","x":1.59,"y":-161,"e":3},{"p":"B4","s":"d","x":2.15,"y":-160,"e":3},{"p":"B4","s":"d","x":2.7,"y":-161,"e":3},{"p":"B4","s":"d","x":2.99,"y":-164,"e":3},{"p":"B4","s":"d","x":3.41,"y":-165,"e":3},{"p":"B4","s":"d","x":3.76,"y":-165,"e":3}
]},
"columns":4,
"spacing":{"row":18,"column":53},
"bounds":"flush",
"concat":[
{"width":190,"height":149,"title":{"text":"KcsA"},
"layer":[
{"data":{"name":"d"},"transform":[{"filter":"datum.p=='A1'"}],
"encoding":{"x":{"field":"x","type":"quantitative","scale":{"domain":[-8,8],"nice":false,"zero":false},"axis":{"values":[-8,-6,-4,-2,0,2,4,6,8],"labels":false,"title":null}},
"y":{"field":"y","type":"quantitative","scale":{"domain":[-180,-60],"nice":false,"zero":false},"axis":{"values":[-180,-160,-140,-120,-100,-80,-60],"labelExpr":"datum.value < 0 ? '\u2212' + format(-datum.value, 'd') : datum.label","title":"Chi Angle (degrees))","titleFontSize":25,"titleX":-63,"titleY":170,"titleBaseline":"alphabetic","titleAlign":"center","titleAngle":-90}},
"color":{"field":"s","type":"nominal","scale":{"domain":["c","d","s","t"],"range":["#1c1c1c","#000000","#555555","#5e5e5e"]},"legend":null}},
"layer":[
{"mark":{"type":"line","strokeWidth":1}},
{"mark":{"type":"point","filled":true,"opacity":1},"encoding":{"shape":{"field":"s","type":"nominal","scale":{"domain":["c","d","s","t"],"range":["circle","diamond","square","triangle-down"]},"legend":null},"size":{"field":"s","type":"ordinal","scale":{"domain":["c","d","s","t"],"range":[105,150,100,115]},"legend":null}}}]},
{"data":{"values":[{"lab":"F114"}]},"mark":{"type":"text","align":"left","baseline":"alphabetic"},
"encoding":{"text":{"field":"lab"},"x":{"datum":-6.9,"type":"quantitative","scale":{"domain":[-8,8],"nice":false,"zero":false},"axis":{"orient":"top","values":[-8,-6,-4,-2,0,2,4,6,8],"labels":false,"title":null}},
"y":{"datum":-173.5,"type":"quantitative","scale":{"domain":[-180,-60],"nice":false,"zero":false},"axis":{"orient":"right","values":[-180,-160,-140,-120,-100,-80,-60],"labels":false,"title":null}}}}],
"resolve":{"axis":{"x":"independent","y":"independent"}}},
{"width":192,"height":149,"title":{"text":"KvAP"},
"layer":[
{"data":{"name":"d"},"transform":[{"filter":"datum.p=='A2'"}],
"encoding":{"x":{"field":"x","type":"quantitative","scale":{"domain":[-6,6],"nice":false,"zero":false},"axis":{"values":[-6,-4,-2,0,2,4,6],"labels":false,"title":null}},
"y":{"field":"y","type":"quantitative","scale":{"domain":[-180,-60],"nice":false,"zero":false},"axis":{"values":[-180,-160,-140,-120,-100,-80,-60],"labelExpr":"datum.value < 0 ? '\u2212' + format(-datum.value, 'd') : datum.label","title":null}},
"color":{"field":"s","type":"nominal","scale":{"domain":["c","d","s","t"],"range":["#1c1c1c","#000000","#555555","#5e5e5e"]},"legend":null}},
"layer":[
{"mark":{"type":"line","strokeWidth":1}},
{"mark":{"type":"point","filled":true,"opacity":1},"encoding":{"shape":{"field":"s","type":"nominal","scale":{"domain":["c","d","s","t"],"range":["circle","diamond","square","triangle-down"]},"legend":null},"size":{"field":"s","type":"ordinal","scale":{"domain":["c","d","s","t"],"range":[105,150,100,115]},"legend":null}}}]},
{"data":{"values":[{"lab":"F235"}]},"mark":{"type":"text","align":"left","baseline":"alphabetic"},
"encoding":{"text":{"field":"lab"},"x":{"datum":-5.27,"type":"quantitative","scale":{"domain":[-6,6],"nice":false,"zero":false},"axis":{"orient":"top","values":[-6,-4,-2,0,2,4,6],"labels":false,"title":null}},
"y":{"datum":-172,"type":"quantitative","scale":{"domain":[-180,-60],"nice":false,"zero":false},"axis":{"orient":"right","values":[-180,-160,-140,-120,-100,-80,-60],"labels":false,"title":null}}}}],
"resolve":{"axis":{"x":"independent","y":"independent"}}},
{"width":190,"height":149,"title":{"text":"Kv1.2"},
"layer":[
{"data":{"name":"d"},"transform":[{"filter":"datum.p=='A3'"}],
"encoding":{"x":{"field":"x","type":"quantitative","scale":{"domain":[-8,8],"nice":false,"zero":false},"axis":{"values":[-8,-6,-4,-2,0,2,4,6,8],"labels":false,"title":null}},
"y":{"field":"y","type":"quantitative","scale":{"domain":[-180,-60],"nice":false,"zero":false},"axis":{"values":[-180,-160,-140,-120,-100,-80,-60],"labelExpr":"datum.value < 0 ? '\u2212' + format(-datum.value, 'd') : datum.label","title":null}},
"color":{"field":"s","type":"nominal","scale":{"domain":["c","d","s","t"],"range":["#1c1c1c","#000000","#555555","#5e5e5e"]},"legend":null}},
"layer":[
{"mark":{"type":"line","strokeWidth":1}},
{"mark":{"type":"point","filled":true,"opacity":1},"encoding":{"shape":{"field":"s","type":"nominal","scale":{"domain":["c","d","s","t"],"range":["circle","diamond","square","triangle-down"]},"legend":null},"size":{"field":"s","type":"ordinal","scale":{"domain":["c","d","s","t"],"range":[105,150,100,115]},"legend":null}}}]},
{"data":{"values":[{"lab":"F413"}]},"mark":{"type":"text","align":"left","baseline":"alphabetic"},
"encoding":{"text":{"field":"lab"},"x":{"datum":-7.27,"type":"quantitative","scale":{"domain":[-8,8],"nice":false,"zero":false},"axis":{"orient":"top","values":[-8,-6,-4,-2,0,2,4,6,8],"labels":false,"title":null}},
"y":{"datum":-172.7,"type":"quantitative","scale":{"domain":[-180,-60],"nice":false,"zero":false},"axis":{"orient":"right","values":[-180,-160,-140,-120,-100,-80,-60],"labels":false,"title":null}}}}],
"resolve":{"axis":{"x":"independent","y":"independent"}}},
{"width":190,"height":149,"title":{"text":"MthK"},
"layer":[
{"data":{"name":"d"},"transform":[{"filter":"datum.p=='A4'"}],
"encoding":{"x":{"field":"x","type":"quantitative","scale":{"domain":[-4,4],"nice":false,"zero":false},"axis":{"values":[-4,-3,-2,-1,0,1,2,3,4],"labels":false,"title":null}},
"y":{"field":"y","type":"quantitative","scale":{"domain":[-160,0],"nice":false,"zero":false},"axis":{"values":[-160,-140,-120,-100,-80,-60,-40,-20,0],"labelExpr":"datum.value == -160 ? '\u2212150' : datum.value < 0 ? '\u2212' + format(-datum.value, 'd') : datum.label","title":null}},
"color":{"field":"s","type":"nominal","scale":{"domain":["c","d","s","t"],"range":["#1c1c1c","#000000","#555555","#5e5e5e"]},"legend":null}},
"layer":[
{"mark":{"type":"errorbar","ticks":true,"size":6,"thickness":0.8,"color":"#333333"},"encoding":{"yError":{"field":"e"},"color":{"value":"#333333"}}},
{"mark":{"type":"line","strokeWidth":1}},
{"mark":{"type":"point","filled":true,"opacity":1},"encoding":{"shape":{"field":"s","type":"nominal","scale":{"domain":["c","d","s","t"],"range":["circle","diamond","square","triangle-down"]},"legend":null},"size":{"field":"s","type":"ordinal","scale":{"domain":["c","d","s","t"],"range":[105,150,100,115]},"legend":null}}}]},
{"data":{"values":[{"lab":"F98"}]},"mark":{"type":"text","align":"left","baseline":"alphabetic"},
"encoding":{"text":{"field":"lab"},"x":{"datum":-3.7,"type":"quantitative","scale":{"domain":[-4,4],"nice":false,"zero":false},"axis":{"orient":"top","values":[-4,-3,-2,-1,0,1,2,3,4],"labels":false,"title":null}},
"y":{"datum":-150.3,"type":"quantitative","scale":{"domain":[-160,0],"nice":false,"zero":false},"axis":{"orient":"right","values":[-160,-140,-120,-100,-80,-60,-40,-20,0],"labels":false,"title":null}}}}],
"resolve":{"axis":{"x":"independent","y":"independent"}}},
{"width":190,"height":148,
"layer":[
{"data":{"name":"d"},"transform":[{"filter":"datum.p=='B1'"}],
"encoding":{"x":{"field":"x","type":"quantitative","scale":{"domain":[-8,8],"nice":false,"zero":false},"axis":{"values":[-8,-6,-4,-2,0,2,4,6,8],"labelPadding":16,"labelExpr":"datum.value < 0 ? '\u2212' + format(-datum.value, 'd') : datum.label","title":"\u0394RMSD (\u00c5)","titleY":51,"titleBaseline":"alphabetic"}},
"y":{"field":"y","type":"quantitative","scale":{"domain":[-150,-60],"nice":false,"zero":false},"axis":{"values":[-150,-140,-130,-120,-110,-100,-90,-80,-70,-60],"labelExpr":"datum.value < 0 ? '\u2212' + format(-datum.value, 'd') : datum.label","title":null}},
"color":{"field":"s","type":"nominal","scale":{"domain":["c","d","s","t"],"range":["#1c1c1c","#000000","#555555","#5e5e5e"]},"legend":null}},
"layer":[
{"mark":{"type":"line","strokeWidth":1}},
{"mark":{"type":"point","filled":true,"opacity":1},"encoding":{"shape":{"field":"s","type":"nominal","scale":{"domain":["c","d","s","t"],"range":["circle","diamond","square","triangle-down"]},"legend":null},"size":{"field":"s","type":"ordinal","scale":{"domain":["c","d","s","t"],"range":[105,150,100,115]},"legend":null}}}]},
{"data":{"values":[{"lab":"F103"}]},"mark":{"type":"text","align":"left","baseline":"alphabetic"},
"encoding":{"text":{"field":"lab"},"x":{"datum":-7.33,"type":"quantitative","scale":{"domain":[-8,8],"nice":false,"zero":false},"axis":{"orient":"top","values":[-8,-6,-4,-2,0,2,4,6,8],"labels":false,"title":null}},
"y":{"datum":-145.7,"type":"quantitative","scale":{"domain":[-150,-60],"nice":false,"zero":false},"axis":{"orient":"right","values":[-150,-140,-130,-120,-110,-100,-90,-80,-70,-60],"labels":false,"title":null}}}}],
"resolve":{"axis":{"x":"independent","y":"independent"}}},
{"width":192,"height":148,
"layer":[
{"data":{"name":"d"},"transform":[{"filter":"datum.p=='B2'"}],
"encoding":{"x":{"field":"x","type":"quantitative","scale":{"domain":[-6,6],"nice":false,"zero":false},"axis":{"values":[-6,-4,-2,0,2,4,6],"labelPadding":16,"labelExpr":"datum.value == -6 ? '6' : datum.value < 0 ? '\u2212' + format(-datum.value, 'd') : datum.label","title":"\u0394RMSD (\u00c5)","titleY":51,"titleBaseline":"alphabetic"}},
"y":{"field":"y","type":"quantitative","scale":{"domain":[-180,-40],"nice":false,"zero":false},"axis":{"values":[-180,-160,-140,-120,-100,-80,-60,-40],"labelExpr":"datum.value < 0 ? '\u2212' + format(-datum.value, 'd') : datum.label","title":null}},
"color":{"field":"s","type":"nominal","scale":{"domain":["c","d","s","t"],"range":["#1c1c1c","#000000","#555555","#5e5e5e"]},"legend":null}},
"layer":[
{"mark":{"type":"line","strokeWidth":1}},
{"mark":{"type":"point","filled":true,"opacity":1},"encoding":{"shape":{"field":"s","type":"nominal","scale":{"domain":["c","d","s","t"],"range":["circle","diamond","square","triangle-down"]},"legend":null},"size":{"field":"s","type":"ordinal","scale":{"domain":["c","d","s","t"],"range":[105,150,100,115]},"legend":null}}}]},
{"data":{"values":[{"lab":"L224"}]},"mark":{"type":"text","align":"left","baseline":"alphabetic"},
"encoding":{"text":{"field":"lab"},"x":{"datum":-5.5,"type":"quantitative","scale":{"domain":[-6,6],"nice":false,"zero":false},"axis":{"orient":"top","values":[-6,-4,-2,0,2,4,6],"labels":false,"title":null}},
"y":{"datum":-173,"type":"quantitative","scale":{"domain":[-180,-40],"nice":false,"zero":false},"axis":{"orient":"right","values":[-180,-160,-140,-120,-100,-80,-60,-40],"labels":false,"title":null}}}}],
"resolve":{"axis":{"x":"independent","y":"independent"}}},
{"width":190,"height":148,
"layer":[
{"data":{"name":"d"},"transform":[{"filter":"datum.p=='B3'"}],
"encoding":{"x":{"field":"x","type":"quantitative","scale":{"domain":[-8,8],"nice":false,"zero":false},"axis":{"values":[-8,-6,-4,-2,0,2,4,6,8],"labelPadding":16,"labelExpr":"datum.value == 8 ? '' : datum.value < 0 ? '\u2212' + format(-datum.value, 'd') : datum.label","title":"\u0394RMSD (\u00c5)","titleY":51,"titleBaseline":"alphabetic"}},
"y":{"field":"y","type":"quantitative","scale":{"domain":[-180,-60],"nice":false,"zero":false},"axis":{"values":[-180,-160,-140,-120,-100,-80,-60],"labelExpr":"datum.value < 0 ? '\u2212' + format(-datum.value, 'd') : datum.label","title":null}},
"color":{"field":"s","type":"nominal","scale":{"domain":["c","d","s","t"],"range":["#1c1c1c","#000000","#555555","#5e5e5e"]},"legend":null}},
"layer":[
{"mark":{"type":"line","strokeWidth":1}},
{"mark":{"type":"point","filled":true,"opacity":1},"encoding":{"shape":{"field":"s","type":"nominal","scale":{"domain":["c","d","s","t"],"range":["circle","diamond","square","triangle-down"]},"legend":null},"size":{"field":"s","type":"ordinal","scale":{"domain":["c","d","s","t"],"range":[105,150,100,115]},"legend":null}}}]},
{"data":{"values":[{"lab":"I402"}]},"mark":{"type":"text","align":"left","baseline":"alphabetic"},
"encoding":{"text":{"field":"lab"},"x":{"datum":-7.18,"type":"quantitative","scale":{"domain":[-8,8],"nice":false,"zero":false},"axis":{"orient":"top","values":[-8,-6,-4,-2,0,2,4,6,8],"labels":false,"title":null}},
"y":{"datum":-174.3,"type":"quantitative","scale":{"domain":[-180,-60],"nice":false,"zero":false},"axis":{"orient":"right","values":[-180,-160,-140,-120,-100,-80,-60],"labels":false,"title":null}}}}],
"resolve":{"axis":{"x":"independent","y":"independent"}}},
{"width":190,"height":148,
"layer":[
{"data":{"name":"d"},"transform":[{"filter":"datum.p=='B4'"}],
"encoding":{"x":{"field":"x","type":"quantitative","scale":{"domain":[-4,4],"nice":false,"zero":false},"axis":{"values":[-4,-3,-2,-1,0,1,2,3,4],"labelPadding":16,"labelExpr":"datum.value < 0 ? '\u2212' + format(-datum.value, 'd') : datum.label","title":"\u0394RMSD (\u00c5)","titleY":51,"titleBaseline":"alphabetic"}},
"y":{"field":"y","type":"quantitative","scale":{"domain":[-180,-80],"nice":false,"zero":false},"axis":{"values":[-180,-160,-140,-120,-100,-80],"labelExpr":"datum.value < 0 ? '\u2212' + format(-datum.value, 'd') : datum.label","title":null}},
"color":{"field":"s","type":"nominal","scale":{"domain":["c","d","s","t"],"range":["#1c1c1c","#000000","#555555","#5e5e5e"]},"legend":null}},
"layer":[
{"mark":{"type":"errorbar","ticks":true,"size":6,"thickness":0.8,"color":"#333333"},"encoding":{"yError":{"field":"e"},"color":{"value":"#333333"}}},
{"mark":{"type":"line","strokeWidth":1}},
{"mark":{"type":"point","filled":true,"opacity":1},"encoding":{"shape":{"field":"s","type":"nominal","scale":{"domain":["c","d","s","t"],"range":["circle","diamond","square","triangle-down"]},"legend":null},"size":{"field":"s","type":"ordinal","scale":{"domain":["c","d","s","t"],"range":[105,150,100,115]},"legend":null}}}]},
{"data":{"values":[{"lab":"F87"}]},"mark":{"type":"text","align":"left","baseline":"alphabetic"},
"encoding":{"text":{"field":"lab"},"x":{"datum":-3.7,"type":"quantitative","scale":{"domain":[-4,4],"nice":false,"zero":false},"axis":{"orient":"top","values":[-4,-3,-2,-1,0,1,2,3,4],"labels":false,"title":null}},
"y":{"datum":-175.3,"type":"quantitative","scale":{"domain":[-180,-80],"nice":false,"zero":false},"axis":{"orient":"right","values":[-180,-160,-140,-120,-100,-80],"labels":false,"title":null}}}}],
"resolve":{"axis":{"x":"independent","y":"independent"}}}
]}
